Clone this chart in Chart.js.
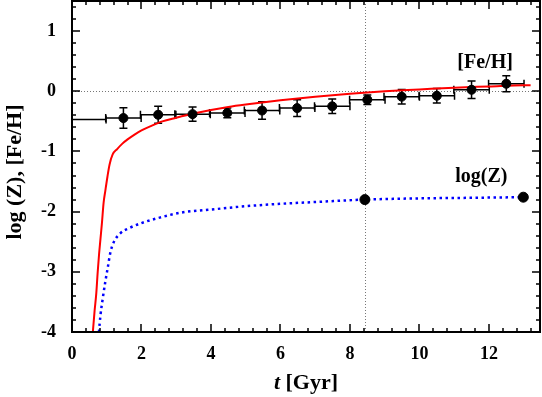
<!DOCTYPE html>
<html>
<head>
<meta charset="utf-8">
<script src="https://cdn.jsdelivr.net/npm/chart.js@4/dist/chart.umd.min.js"></script>
<style>
  html, body { margin: 0; padding: 0; background: #fff; }
  #wrap { width: 542px; height: 397px; }
</style>
</head>
<body>
<div id="wrap"><canvas id="grafico" width="542" height="397"></canvas></div>
<script>
// observed [Fe/H] in 1 Gyr bins
var feT = [0.47, 1.48, 2.48, 3.47, 4.47, 5.47, 6.48, 7.49, 8.5, 9.49, 10.5, 11.5, 12.5];
var feV = [-0.47, -0.445, -0.39, -0.38, -0.36, -0.32, -0.28, -0.25, -0.14, -0.09, -0.075, 0.025, 0.125];
var feErr = [0, 0.17, 0.14, 0.12, 0.08, 0.145, 0.14, 0.12, 0.08, 0.12, 0.12, 0.145, 0.135];
var feBin = 0.51;

// model [Fe/H] (red)
var modT = [0.57, 0.6, 0.65, 0.7, 0.74, 0.78, 0.82, 0.86, 0.91, 0.96, 1.02, 1.08, 1.17, 1.3, 1.45, 1.6, 1.8, 2.0, 2.3, 2.6, 3.0, 3.5, 4.0, 4.5, 5.0, 6.0, 7.0, 8.0, 9.0, 10.0, 11.0, 12.0, 13.0, 13.2];
var modFe = [-4.25, -4.0, -3.65, -3.35, -3.0, -2.7, -2.45, -2.2, -1.85, -1.65, -1.42, -1.22, -1.05, -0.96, -0.87, -0.8, -0.72, -0.65, -0.57, -0.5, -0.44, -0.37, -0.31, -0.26, -0.22, -0.15, -0.09, -0.04, 0.0, 0.03, 0.06, 0.08, 0.1, 0.1];

// model log(Z) (blue dotted)
var zT = [0.74, 0.776, 0.82, 0.873, 0.96, 1.035, 1.1, 1.2, 1.39, 1.66, 2.0, 2.52, 3.2, 3.92, 5.0, 6.0, 7.0, 8.43, 10.0, 11.5, 12.99];
var zV = [-4.3, -4.0, -3.72, -3.49, -3.16, -2.91, -2.69, -2.51, -2.36, -2.27, -2.19, -2.1, -2.01, -1.97, -1.91, -1.87, -1.84, -1.8, -1.78, -1.77, -1.76];

// marked log(Z) points
var zMarkT = [8.43, 12.99];
var zMarkV = [-1.8, -1.76];

var refT = 8.43;
var refV = 0;

var xMin = 0, xMax = 13.47, yMin = -4, yMax = 1.5;
var fonte = "'Liberation Serif', 'Times New Roman', serif";

function pares(a, b) {
    var r = [];
    for (var i = 0; i < a.length; i++) r.push({ x: a[i], y: b[i] });
    return r;
}

var raios = feErr.map(function (e, i) { return i === 0 ? 0 : 4.5; });

var enfeites = {
    id: 'enfeites',
    beforeDatasetsDraw: function (chart) {
        var ctx = chart.ctx, a = chart.chartArea;
        var sx = chart.scales.x, sy = chart.scales.y;
        ctx.save();
        ctx.beginPath();
        ctx.rect(a.left, a.top, a.right - a.left, a.bottom - a.top);
        ctx.clip();
        // dotted reference lines
        ctx.strokeStyle = '#777';
        ctx.lineWidth = 1;
        ctx.setLineDash([1, 2]);
        var py = Math.round(sy.getPixelForValue(refV)) + 0.5;
        ctx.beginPath(); ctx.moveTo(a.left, py); ctx.lineTo(a.right, py); ctx.stroke();
        var px = Math.round(sx.getPixelForValue(refT)) + 0.5;
        ctx.beginPath(); ctx.moveTo(px, a.top); ctx.lineTo(px, a.bottom); ctx.stroke();
        ctx.setLineDash([]);
        // error bars
        ctx.strokeStyle = '#000';
        ctx.lineWidth = 1.5;
        for (var i = 0; i < feT.length; i++) {
            var x0 = sx.getPixelForValue(feT[i] - feBin);
            var x1 = sx.getPixelForValue(feT[i] + feBin);
            var yc = sy.getPixelForValue(feV[i]);
            ctx.beginPath();
            ctx.moveTo(x0, yc); ctx.lineTo(x1, yc);
            ctx.moveTo(x0, yc - 4); ctx.lineTo(x0, yc + 4);
            ctx.moveTo(x1, yc - 4); ctx.lineTo(x1, yc + 4);
            if (feErr[i] > 0) {
                var xc = sx.getPixelForValue(feT[i]);
                var y0 = sy.getPixelForValue(feV[i] - feErr[i]);
                var y1 = sy.getPixelForValue(feV[i] + feErr[i]);
                ctx.moveTo(xc, y0); ctx.lineTo(xc, y1);
                ctx.moveTo(xc - 4, y0); ctx.lineTo(xc + 4, y0);
                ctx.moveTo(xc - 4, y1); ctx.lineTo(xc + 4, y1);
            }
            ctx.stroke();
        }
        ctx.restore();
    },
    afterDraw: function (chart) {
        var ctx = chart.ctx, a = chart.chartArea;
        var sx = chart.scales.x, sy = chart.scales.y;
        ctx.save();
        // inward ticks on all four sides
        ctx.strokeStyle = '#000';
        ctx.lineWidth = 1.5;
        ctx.beginPath();
        for (var i = 0; i * 0.4 <= xMax + 1e-9; i++) {
            var len = (i % 5 === 0) ? 8 : 4;
            var px = Math.round(sx.getPixelForValue(i * 0.4));
            ctx.moveTo(px, a.bottom); ctx.lineTo(px, a.bottom - len);
            ctx.moveTo(px, a.top); ctx.lineTo(px, a.top + len);
        }
        for (var j = 0; yMin + j * 0.2 <= yMax + 1e-9; j++) {
            var lenY = (j % 5 === 0) ? 8 : 4;
            var py = Math.round(sy.getPixelForValue(yMin + j * 0.2));
            ctx.moveTo(a.left, py); ctx.lineTo(a.left + lenY, py);
            ctx.moveTo(a.right, py); ctx.lineTo(a.right - lenY, py);
        }
        ctx.stroke();
        // frame
        ctx.lineWidth = 2;
        ctx.strokeRect(a.left, a.top, a.right - a.left, a.bottom - a.top);

        // curve labels
        ctx.fillStyle = '#000';
        ctx.textAlign = 'center';
        ctx.textBaseline = 'middle';
        ctx.font = 'bold 20px ' + fonte;
        ctx.fillText('[Fe/H]', sx.getPixelForValue(11.89), sy.getPixelForValue(0.47));
        ctx.fillText('log(Z)', sx.getPixelForValue(11.78), sy.getPixelForValue(-1.42));

        // x title: italic t + [Gyr]
        ctx.textAlign = 'left';
        ctx.textBaseline = 'alphabetic';
        var f1 = 'italic bold 22px ' + fonte, f2 = 'bold 22px ' + fonte;
        ctx.font = f1; var w1 = ctx.measureText('t').width;
        ctx.font = f2; var w2 = ctx.measureText(' [Gyr]').width;
        var cx = (a.left + a.right) / 2;
        var x0 = cx - (w1 + w2) / 2;
        ctx.font = f1; ctx.fillText('t', x0, 389);
        ctx.font = f2; ctx.fillText(' [Gyr]', x0 + w1, 389);

        // y title
        ctx.translate(15, 172);
        ctx.rotate(-Math.PI / 2);
        ctx.textAlign = 'center';
        ctx.textBaseline = 'middle';
        ctx.font = 'bold 22px ' + fonte;
        ctx.fillText('log (Z), [Fe/H]', 0, 0);
        ctx.restore();
    }
};

var ctx = document.getElementById("grafico").getContext("2d");
var grafico = new Chart(ctx, {
    type: 'scatter',
    data: {
        datasets: [{
            label: 'Fe/H obs',
            data: pares(feT, feV),
            pointRadius: raios,
            pointBackgroundColor: '#000',
            pointBorderColor: '#000',
            showLine: false
        }, {
            label: 'log Z marks',
            data: pares(zMarkT, zMarkV),
            pointRadius: 5,
            pointBackgroundColor: '#000',
            pointBorderColor: '#000',
            showLine: false
        }, {
            label: 'Fe/H model',
            data: pares(modT, modFe),
            showLine: true,
            pointRadius: 0,
            borderColor: '#ff0000',
            borderWidth: 2,
            cubicInterpolationMode: 'monotone'
        }, {
            label: 'log Z model',
            data: pares(zT, zV),
            showLine: true,
            pointRadius: 0,
            borderColor: '#0000ff',
            borderWidth: 2.5,
            borderDash: [2.5, 3.5],
            cubicInterpolationMode: 'monotone'
        }]
    },
    options: {
        responsive: false,
        animation: false,
        layout: { autoPadding: false, padding: { top: 1, right: 2, left: 0, bottom: 0 } },
        plugins: { legend: { display: false }, tooltip: { enabled: false } },
        scales: {
            x: {
                type: 'linear', min: xMin, max: xMax,
                grid: { display: false, drawTicks: false },
                border: { display: false },
                ticks: {
                    stepSize: 2, includeBounds: false, padding: 12, color: '#000',
                    font: { family: fonte, size: 18, weight: 'bold' }
                },
                afterFit: function (s) { s.height = 65; s.paddingLeft = 0; s.paddingRight = 0; }
            },
            y: {
                min: yMin, max: yMax,
                grid: { display: false, drawTicks: false },
                border: { display: false },
                ticks: {
                    stepSize: 1, includeBounds: false, padding: 16, color: '#000',
                    font: { family: fonte, size: 18, weight: 'bold' }
                },
                afterFit: function (s) { s.width = 72; s.paddingTop = 0; s.paddingBottom = 0; }
            }
        }
    },
    plugins: [enfeites]
});
</script>
</body>
</html>
